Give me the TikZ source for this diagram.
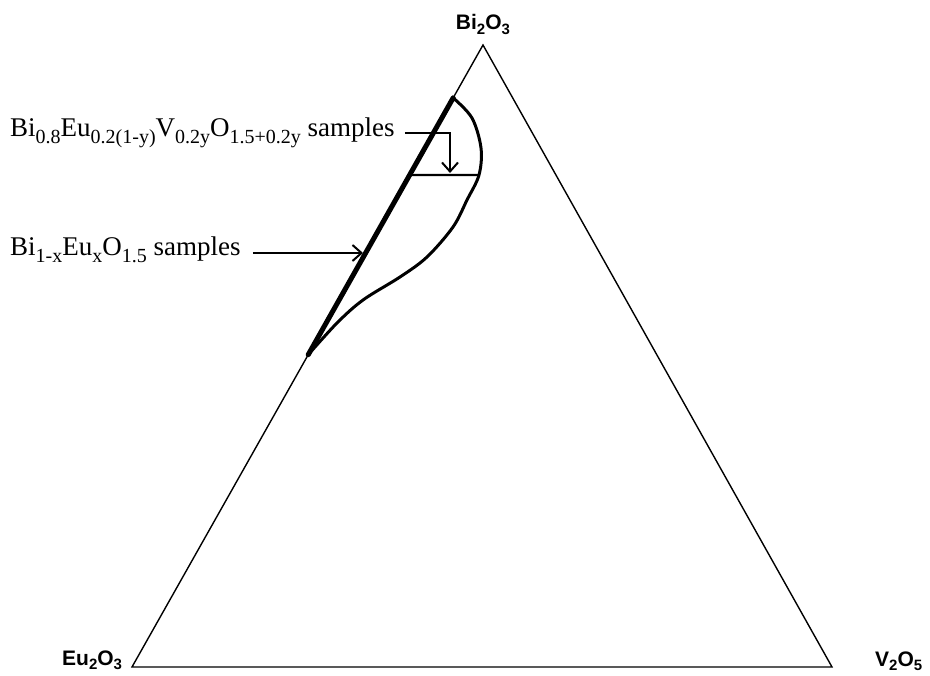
\documentclass[tikz,border=0pt]{standalone}
\usepackage{fontspec}
\setmainfont{Liberation Serif}
\newfontfamily\arialfont{Liberation Sans}
\usetikzlibrary{arrows.meta,calc}
\newcommand\lo[1]{\raisebox{-0.25em}{\fontsize{20}{20}\selectfont #1}}
\newcommand\los[1]{\raisebox{-0.2em}{\fontsize{15}{15}\selectfont #1}}
\tikzset{
  edge/.style={line width=1.4pt, line join=miter},
  heavy/.style={line width=5pt, line cap=round},
  curve/.style={line width=3pt, line cap=round, line join=round},
  pointer/.style={line width=2pt, -{Straight Barb[length=9pt,width=16pt,line width=2pt]}},
  corner/.style={font=\arialfont\bfseries\fontsize{21}{24}\selectfont, inner sep=0pt},
  samplelbl/.style={font=\fontsize{27}{30}\selectfont, inner sep=0pt, anchor=base west}
}
\begin{document}
\begin{tikzpicture}[x=1pt,y=-1pt]
\useasboundingbox (0,0) rectangle (930,676);
% vertices
\coordinate (A) at (483,45);
\coordinate (B) at (132,667);
\coordinate (C) at (832,667);
\draw[edge] (A) -- (B) -- (C) -- cycle;
% corner labels
\node[corner, anchor=base] (bi) at (483,30) {Bi\los{2}O\los{3}};
\node[corner, anchor=base west] (eu) at (62,665) {Eu\los{2}O\los{3}};
\node[corner, anchor=base west] (v) at (875,666) {V\los{2}O\los{5}};
% thick line along Bi2O3-Eu2O3 edge
\coordinate (T1) at ($(A)!0.085!(B)$);
\coordinate (T2) at ($(A)!0.498!(B)$);
\coordinate (T3) at ($(A)!0.209!(B)$);
\coordinate (R) at (479,175);
\draw[heavy] (T1) -- (T2);
% tie line
\draw[line width=2.4pt] (T3) -- (R);
% phase boundary curve
\draw[curve] plot[smooth, tension=0.55] coordinates {(T1) (472,118) (481,148) (479,175) (467,200) (453,227) (427,257) (400,277) (363,300) (337,323) (T2)};
% labels
\node[samplelbl] (l1) at (10,137) {Bi\lo{0.8}Eu\lo{0.2(1-y)}V\lo{0.2y}O\lo{1.5+0.2y} samples};
\node[samplelbl] (l2) at (10,256) {Bi\lo{1-x}Eu\lo{x}O\lo{1.5} samples};
\coordinate (k1) at (450,133);
\coordinate (k2) at (450,173);
\coordinate (k3) at (363,253);
\draw[pointer] ([xshift=10pt,yshift=4pt]l1.base east) -- (k1) -- (k2);
\draw[pointer] ([xshift=12pt,yshift=3pt]l2.base east) -- (k3);
\end{tikzpicture}
\end{document}
